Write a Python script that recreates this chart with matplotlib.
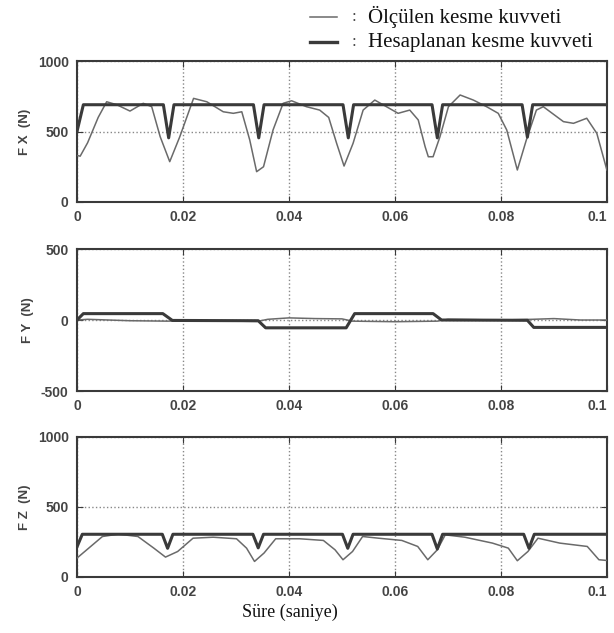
import numpy as np
import matplotlib.pyplot as plt
from matplotlib.lines import Line2D

plt.rcParams['axes.unicode_minus'] = False

# FX (N)
fx_meas_t = [0.0, 0.0006, 0.0020, 0.0040, 0.0056, 0.0075, 0.0100, 0.0125, 0.0141, 0.0157, 0.0175,
             0.0194, 0.0220, 0.0245, 0.0276, 0.0295, 0.0311, 0.0326, 0.0339, 0.0352, 0.0370,
             0.0389, 0.0405, 0.0433, 0.0458, 0.0475, 0.0490, 0.0504, 0.0521, 0.0540, 0.0562,
             0.0584, 0.0606, 0.0628, 0.0644, 0.0657, 0.0663, 0.0672, 0.0685, 0.0701, 0.0723,
             0.0748, 0.0773, 0.0795, 0.0811, 0.0831, 0.0848, 0.0867, 0.0880, 0.0918, 0.0937,
             0.0962, 0.0981, 0.1000]
fx_meas = [330, 325, 420, 600, 711, 690, 645, 700, 676, 463, 286,
           463, 735, 711, 640, 629, 640, 440, 215, 250, 511,
           700, 718, 676, 652, 600, 416, 255, 416, 652, 723,
           676, 629, 652, 582, 392, 321, 321, 463, 676, 759,
           723, 676, 629, 511, 227, 440, 652, 676, 570, 558,
           594, 487, 227]
fx_calc_t = [0.0, 0.0012, 0.0163, 0.0173, 0.0183, 0.0333, 0.0343, 0.0353, 0.0502, 0.0512, 0.0522,
             0.0670, 0.0680, 0.0690, 0.0840, 0.0850, 0.0860, 0.1000]
fx_calc = [500, 690, 690, 455, 690, 690, 455, 690, 690, 455, 690,
           690, 455, 690, 690, 460, 690, 690]

# FY (N)
fy_meas_t = [0.0, 0.002, 0.010, 0.017, 0.020, 0.030, 0.034, 0.036, 0.040, 0.045, 0.050,
             0.052, 0.060, 0.068, 0.070, 0.080, 0.086, 0.090, 0.095, 0.100]
fy_meas = [0, 5, -5, -8, -5, -8, -10, 5, 15, 10, 8,
           -8, -12, -8, 5, 0, 5, 10, 0, 0]
fy_calc_t = [0.0, 0.0012, 0.0162, 0.0180, 0.0342, 0.0356, 0.0508, 0.0524, 0.0672, 0.0688,
             0.0850, 0.0862, 0.1000]
fy_calc = [0, 45, 45, -3, -5, -55, -55, 45, 45, 0, -2, -52, -52]

# FZ (N)
fz_meas_t = [0.0, 0.0048, 0.0078, 0.0115, 0.0145, 0.0167, 0.0190, 0.0219, 0.0257, 0.0301,
             0.0320, 0.0335, 0.0353, 0.0375, 0.0420, 0.0465, 0.0487, 0.0502, 0.0520, 0.0539,
             0.0569, 0.0613, 0.0643, 0.0662, 0.0680, 0.0695, 0.0732, 0.0784, 0.0814, 0.0831,
             0.0851, 0.0870, 0.0911, 0.0963, 0.0985, 0.1000]
fz_meas = [135, 289, 306, 289, 206, 142, 182, 277, 284, 273,
           206, 111, 171, 273, 273, 261, 194, 123, 182, 289,
           277, 261, 218, 123, 194, 301, 284, 242, 206, 116,
           182, 277, 242, 218, 123, 118]
fz_calc_t = [0.0, 0.0010, 0.0161, 0.0171, 0.0181, 0.0332, 0.0342, 0.0352, 0.0501, 0.0511, 0.0521,
             0.0670, 0.0680, 0.0690, 0.0843, 0.0853, 0.0863, 0.1000]
fz_calc = [215, 305, 305, 205, 305, 305, 208, 305, 305, 205, 305,
           305, 200, 305, 305, 205, 305, 305]

panels = [
    ('F X  (N)', fx_meas_t, fx_meas, fx_calc_t, fx_calc, (0, 1000), [0, 500, 1000]),
    ('F Y  (N)', fy_meas_t, fy_meas, fy_calc_t, fy_calc, (-500, 500), [-500, 0, 500]),
    ('F Z  (N)', fz_meas_t, fz_meas, fz_calc_t, fz_calc, (0, 1000), [0, 500, 1000]),
]
rects = [
    [0.1254, 0.6809, 0.863, 0.2227],
    [0.1254, 0.3823, 0.863, 0.2243],
    [0.1254, 0.0885, 0.863, 0.2212],
]
xticks = [0, 0.02, 0.04, 0.06, 0.08, 0.1]
xticklabels = ['0', '0.02', '0.04', '0.06', '0.08', '0.1']

meas_color = '#6a6a6a'
calc_color = '#3a3a3a'
txt_color = '#444444'

fig = plt.figure(figsize=(6.14, 6.33), dpi=100)

for (lab, mt, mv, ct, cv, ylim, yt), r in zip(panels, rects):
    ax = fig.add_axes(r)
    ax.plot(mt, mv, color=meas_color, lw=1.1, zorder=3)
    ax.plot(ct, cv, color=calc_color, lw=2.2, zorder=4)
    ax.set_xlim(0, 0.1)
    ax.set_ylim(*ylim)
    ax.set_xticks(xticks)
    ax.set_xticklabels(xticklabels)
    ax.set_yticks(yt)
    ax.grid(True, ls=':', color='#888888', lw=1.0)
    ax.tick_params(direction='in', length=4, top=True, right=True, colors=calc_color,
                   labelcolor=txt_color, labelsize=10, pad=6)
    for t in ax.get_xticklabels() + ax.get_yticklabels():
        t.set_fontweight('bold')
        t.set_family('Liberation Sans')
    # keep the last label inside the figure
    ax.get_xticklabels()[-1].set_horizontalalignment('right')
    for s in ax.spines.values():
        s.set_linewidth(1.5)
        s.set_color(calc_color)
    ax.set_ylabel(lab, fontsize=9.5, color=txt_color, family='Liberation Sans',
                  fontweight='bold', labelpad=5)

# legend drawn at the top right
fig.add_artist(Line2D([310 / 614, 337 / 614], [1 - 17 / 633, 1 - 17 / 633],
                      color=meas_color, lw=1.1))
fig.add_artist(Line2D([310 / 614, 337 / 614], [1 - 42 / 633, 1 - 42 / 633],
                      color=calc_color, lw=2.4))
fig.text(354 / 614, 1 - 17 / 633, ':', fontsize=12, family='Liberation Serif',
         va='center', ha='center', color=txt_color)
fig.text(354 / 614, 1 - 42 / 633, ':', fontsize=12, family='Liberation Serif',
         va='center', ha='center', color=txt_color)
fig.text(368 / 614, 1 - 17 / 633, 'Ölçülen kesme kuvveti', fontsize=15,
         family='Liberation Serif', va='center', ha='left', color='#111111')
fig.text(368 / 614, 1 - 42 / 633, 'Hesaplanan kesme kuvveti', fontsize=15,
         family='Liberation Serif', va='center', ha='left', color='#111111')

fig.text(290 / 614, 1 - 612 / 633, 'Süre (saniye)', fontsize=13,
         family='Liberation Serif', va='center', ha='center', color='#111111')

fig.savefig('out.png', dpi=100, facecolor='white')
